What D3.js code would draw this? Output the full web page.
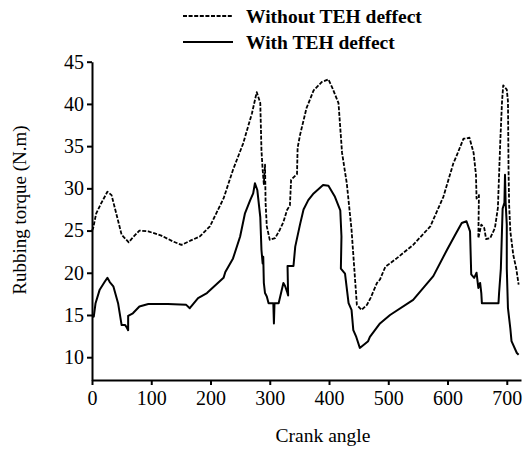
<!DOCTYPE html>
<html>
<head>
<meta charset="utf-8">
<style>
  html, body { margin: 0; padding: 0; background: #fff; }
  svg { display: block; }
  svg text { font-family: "Liberation Serif", "Times New Roman", Times, serif; fill: #000; }
  .axis path, .axis line { stroke: #000; stroke-width: 2; }
  .legend text { font-weight: bold; }
</style>
</head>
<body>
<svg id="chart" width="523" height="449"></svg>
<script src="https://cdn.jsdelivr.net/npm/d3@7"></script>
<script>
// Without TEH deffect (dashed)
const withoutAngle = [0, 2, 7, 16, 26, 33, 41, 50, 62, 69, 80, 95, 117, 137, 151, 166, 182, 199, 222, 238,
  255, 270, 278, 284, 286, 288, 290, 292, 293, 295, 300, 309, 317, 323, 329, 334, 336, 346, 347, 351,
  362, 374, 388, 399, 405, 416, 422, 430, 438, 447, 455, 464, 470, 481, 486, 495, 514, 542, 571, 593,
  610, 615, 627, 631, 637, 644, 648, 649, 653, 652, 657, 662, 665, 672, 680, 685, 689, 692, 694, 700,
  702, 703, 704, 706, 711, 716, 720];
const withoutTorque = [25.0, 25.3, 27.0, 28.3, 29.6, 29.2, 27.0, 24.5, 23.6, 24.2, 25.0, 24.9, 24.4, 23.7, 23.3, 23.8, 24.3, 25.5, 28.8, 32.2,
  35.3, 38.9, 41.4, 40.1, 34.5, 32.2, 30.5, 32.8, 28.2, 25.5, 23.9, 24.1, 25.1, 26.0, 27.4, 28.0, 31.0, 31.7, 34.8, 36.3,
  39.5, 41.6, 42.6, 42.9, 42.0, 40.1, 34.2, 30.6, 25.1, 16.2, 15.6, 16.2, 17.0, 18.8, 19.2, 20.7, 21.7, 23.3, 25.5, 29.0,
  33.0, 33.8, 35.9, 35.9, 36.0, 34.2, 31.6, 28.8, 29.2, 24.1, 25.7, 25.3, 24.0, 24.1, 25.3, 27.7, 35.5, 40.3, 42.2, 41.7,
  40.3, 32.0, 28.0, 24.9, 22.1, 20.5, 18.6];

// With TEH deffect (solid)
const withAngle = [0, 3, 6, 13, 22, 26, 30, 36, 44, 50, 56, 58, 61, 61, 69, 80, 95, 128, 159, 165,
  179, 194, 222, 225, 238, 250, 258, 267, 272, 275, 279, 284, 286, 288, 289, 290, 292, 295, 298, 303,
  306, 307, 308, 315, 323, 326, 329, 331, 330, 340, 343, 351, 357, 365, 374, 390, 399, 410, 419, 421,
  420, 427, 433, 438, 441, 446, 452, 466, 469, 486, 503, 542, 576, 599, 613, 624, 632, 638, 640, 645,
  649, 652, 655, 657, 658, 686, 687, 690, 693, 696, 697, 698, 700, 700, 702, 706, 708, 717, 720];
const withTorque = [15.0, 14.8, 16.4, 18.0, 19.0, 19.4, 18.9, 18.4, 16.4, 13.8, 13.8, 13.6, 13.2, 14.9, 15.2, 16.0, 16.3, 16.3, 16.2, 15.8,
  17.0, 17.6, 19.4, 20.1, 21.7, 24.3, 27.0, 28.6, 29.4, 30.6, 29.8, 26.6, 22.7, 21.1, 21.9, 18.8, 17.6, 17.2, 16.4, 16.4,
  16.4, 14.0, 16.4, 16.4, 18.8, 18.4, 17.8, 17.3, 20.8, 20.8, 23.1, 25.7, 27.5, 28.6, 29.4, 30.4, 30.3, 29.0, 27.4, 24.3,
  20.5, 19.9, 16.4, 15.6, 13.2, 12.4, 11.1, 11.9, 12.4, 14.0, 15.0, 16.8, 19.6, 22.7, 24.5, 25.9, 26.1, 24.9, 19.8, 19.4,
  20.0, 18.2, 18.8, 17.6, 16.4, 16.4, 17.6, 20.5, 27.6, 28.3, 31.6, 28.4, 25.7, 20.5, 15.8, 13.4, 11.9, 10.5, 10.3];

const xTicks = [0, 100, 200, 300, 400, 500, 600, 700];
const yTicks = [10, 15, 20, 25, 30, 35, 40, 45];
const seriesNames = ['Without TEH deffect', 'With TEH deffect'];

(function () {
  const svg = d3.select('#chart');
  const serif = '"Liberation Serif", "Times New Roman", serif';

  const x = d3.scaleLinear().domain([0, 724]).range([92, 521]);
  const y = d3.scaleLinear().domain([7.3, 45]).range([380, 61.7]);

  const series = [
    { name: seriesNames[0], dash: '4,1.6', width: 1.8, pts: d3.zip(withoutAngle, withoutTorque) },
    { name: seriesNames[1], dash: null, width: 2, pts: d3.zip(withAngle, withTorque) }
  ];

  const line = d3.line()
    .x(function (d) { return x(d[0]); })
    .y(function (d) { return y(d[1]); });

  series.forEach(function (s) {
    svg.append('path')
      .datum(s.pts)
      .attr('fill', 'none')
      .attr('stroke', '#000')
      .attr('stroke-width', s.width)
      .attr('stroke-linejoin', 'round')
      .attr('stroke-dasharray', s.dash)
      .attr('d', line);
  });

  svg.append('g')
    .attr('class', 'axis')
    .attr('transform', 'translate(0,380)')
    .call(d3.axisBottom(x).tickValues(xTicks).tickSize(5).tickSizeOuter(0).tickPadding(6))
    .attr('font-family', serif)
    .attr('font-size', 20);

  svg.append('g')
    .attr('class', 'axis')
    .attr('transform', 'translate(92,0)')
    .call(d3.axisLeft(y).tickValues(yTicks).tickSize(5).tickSizeOuter(0).tickPadding(3))
    .attr('font-family', serif)
    .attr('font-size', 20);

  svg.append('text')
    .attr('font-family', serif)
    .attr('font-size', 19.5)
    .attr('x', 323)
    .attr('y', 442)
    .attr('text-anchor', 'middle')
    .text('Crank angle');

  svg.append('text')
    .attr('font-family', serif)
    .attr('font-size', 19)
    .attr('transform', 'translate(26,210) rotate(-90)')
    .attr('text-anchor', 'middle')
    .text('Rubbing torque (N.m)');

  const legend = svg.append('g').attr('class', 'legend');
  series.forEach(function (s, i) {
    const ly = 16 + i * 26;
    legend.append('line')
      .attr('x1', 183).attr('x2', 233)
      .attr('y1', ly).attr('y2', ly)
      .attr('stroke', '#000')
      .attr('stroke-width', s.width)
      .attr('stroke-dasharray', s.dash);
    legend.append('text')
      .attr('font-family', serif)
      .attr('font-size', 19.5)
      .attr('x', 246)
      .attr('y', ly + 7)
      .text(s.name);
  });
})();
</script>
</body>
</html>
